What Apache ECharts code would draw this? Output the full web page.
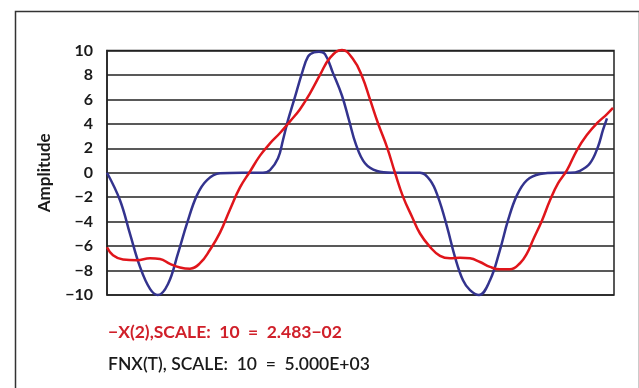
<!DOCTYPE html>
<html>
<head>
<meta charset="utf-8">
<script src="https://cdn.jsdelivr.net/npm/echarts@6/dist/echarts.min.js"></script>
<style>
  html, body { margin: 0; padding: 0; background: #fff; }
  #chart { width: 639px; height: 388px; }
</style>
</head>
<body>
<div id="chart"></div>
<script>
// Sample times (arbitrary time units) and amplitudes for each trace
const fnxTimes = [0, 13, 23, 33, 43, 51, 61, 71, 80, 90, 100, 113, 135, 156, 163, 171, 176, 181, 188, 195, 201, 207, 212, 218, 226, 235, 242, 249, 258, 270, 285, 313, 323, 331, 340, 348, 356, 363, 372, 383, 393, 401, 410, 420, 433, 450, 463, 473, 483, 491, 496, 500];
const fnxValues = [0, -2.25, -5.0, -7.7, -9.5, -10, -9.1, -6.6, -4.15, -1.83, -0.6, -0.05, 0, 0, 0.22, 1.18, 2.68, 4.3, 6.2, 8.15, 9.5, 9.85, 9.9, 9.7, 8.15, 6.3, 4.3, 2.3, 0.77, 0.14, 0, 0, -0.6, -1.97, -4.4, -6.9, -8.8, -9.6, -10, -8.8, -6.3, -3.9, -1.83, -0.6, -0.1, 0, 0, 0.16, 0.77, 2.13, 3.5, 4.45];

const x2Times = [0, 6, 16, 30, 43, 53, 63, 73, 83, 93, 103, 113, 123, 133, 143, 153, 163, 173, 183, 193, 203, 213, 223, 235, 246, 255, 263, 271, 280, 288, 296, 305, 313, 323, 333, 343, 353, 363, 373, 383, 393, 403, 413, 420, 426, 435, 443, 451, 460, 470, 480, 490, 500, 506];
const x2Values = [-6.1, -6.75, -7.1, -7.15, -7.0, -7.05, -7.45, -7.75, -7.85, -7.4, -6.3, -4.9, -3.0, -1.2, 0.1, 1.4, 2.4, 3.25, 4.2, 5.2, 6.5, 8.0, 9.4, 10.05, 9.3, 7.9, 6.0, 4.05, 2.1, 0.0, -1.95, -3.6, -4.97, -6.07, -6.8, -7.0, -6.95, -7.0, -7.3, -7.7, -7.9, -7.9, -7.4, -6.6, -5.5, -3.9, -2.25, -0.87, 0.22, 1.86, 3.1, 4.05, 4.8, 5.3];

const timeMax = 507;
const ampMin = -10, ampMax = 10, ampStep = 2;

const x2Caption = '\u2212X(2),SCALE:  10  =  2.483\u221202';
const fnxCaption = 'FNX(T), SCALE:  10  =  5.000E+03';
const yName = 'Amplitude';

const pair = (ts, vs) => ts.map((t, i) => [t, vs[i]]);
const FONT = 'Lato, "Open Sans", sans-serif';

const chart = echarts.init(document.getElementById('chart'), null, { renderer: 'canvas' });
chart.setOption({
  animation: false,
  backgroundColor: '#fff',
  grid: {
    left: 107, right: 25, top: 50.5, bottom: 93,
    show: true, borderColor: '#222', borderWidth: 1.5, backgroundColor: 'transparent'
  },
  xAxis: {
    type: 'value', min: 0, max: timeMax,
    axisLine: { show: false }, axisTick: { show: false },
    axisLabel: { show: false }, splitLine: { show: false }
  },
  yAxis: {
    type: 'value', min: ampMin, max: ampMax, interval: ampStep,
    axisLine: { show: true, onZero: false, lineStyle: { color: '#222', width: 1.5 } },
    axisTick: { show: false },
    axisLabel: {
      margin: 14, color: '#1a1a1a', fontFamily: FONT, fontWeight: 'bold', fontSize: 16,
      formatter: v => (v < 0 ? '\u2212' + Math.abs(v) : String(v))
    },
    splitLine: { show: true, lineStyle: { color: '#222', width: 1.5 } },
    name: yName, nameLocation: 'middle', nameGap: 54, nameRotate: 90,
    nameTextStyle: { color: '#1a1a1a', fontFamily: FONT, fontWeight: 'bold', fontSize: 17 }
  },
  series: [
    {
      name: 'FNX(T)', type: 'line', data: pair(fnxTimes, fnxValues),
      smooth: 0.4, showSymbol: false, clip: false,
      lineStyle: { color: '#33338e', width: 2.5 }
    },
    {
      name: '-X(2)', type: 'line', data: pair(x2Times, x2Values),
      smooth: 0.45, showSymbol: false, clip: false,
      lineStyle: { color: '#e0151b', width: 2.5 }
    }
  ],
  graphic: [
    {
      type: 'rect', left: 13, top: 9, z: -1, silent: true,
      shape: { width: 624, height: 400 },
      style: { fill: 'none', stroke: '#333', lineWidth: 1.5 }
    },
    {
      type: 'text', left: 108, top: 323,
      style: { text: x2Caption, fill: '#d0202a', font: 'bold 17.5px ' + FONT }
    },
    {
      type: 'text', left: 108, top: 355,
      style: { text: fnxCaption, fill: '#1a1a1a', font: '600 17.5px ' + FONT }
    }
  ]
});
</script>
</body>
</html>
